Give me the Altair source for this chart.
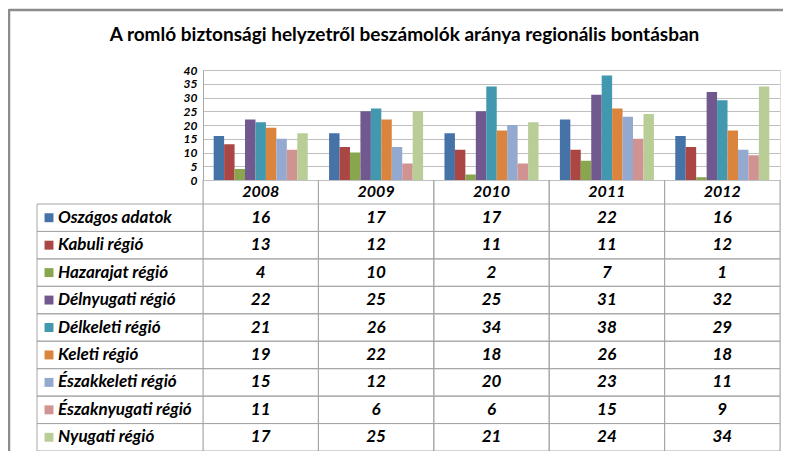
import altair as alt
import pandas as pd

title_text = "A romló biztonsági helyzetről beszámolók aránya regionális bontásban"
years = ["2008", "2009", "2010", "2011", "2012"]
series = ["Oszágos adatok", "Kabuli régió", "Hazarajat régió", "Délnyugati régió",
          "Délkeleti régió", "Keleti régió", "Északkeleti régió", "Északnyugati régió",
          "Nyugati régió"]
orszagos = [16, 17, 17, 22, 16]
kabuli = [13, 12, 11, 11, 12]
hazarajat = [4, 10, 2, 7, 1]
delnyugati = [22, 25, 25, 31, 32]
delkeleti = [21, 26, 34, 38, 29]
keleti = [19, 22, 18, 26, 18]
eszakkeleti = [15, 12, 20, 23, 11]
eszaknyugati = [11, 6, 6, 15, 9]
nyugati = [17, 25, 21, 24, 34]
colors = ["#4572A7", "#AA4643", "#89A54E", "#71588F", "#4198AF",
          "#DB843D", "#93A9CF", "#D19392", "#B9CD96"]
y_ticks = [0, 5, 10, 15, 20, 25, 30, 35, 40]

all_vals = [orszagos, kabuli, hazarajat, delnyugati, delkeleti, keleti,
            eszakkeleti, eszaknyugati, nyugati]
rows = []
for s, vals in zip(series, all_vals):
    for y, v in zip(years, vals):
        rows.append({"year": y, "series": s, "value": v})
df = pd.DataFrame(rows)
series_df = pd.DataFrame({"series": series})
years_df = pd.DataFrame({"year": years, "row": ["hdr"] * len(years)})
one = pd.DataFrame({"a": [0]})

W, H = 577, 381
BAR_H = 110
ROW_TOP = 134
LABEL_LEFT = -166
FONT = "Lato"
GRID = "#BFBFBF"
LINE = "#A6A6A6"
FRAME = "#8C8C8C"

color_scale = alt.Scale(domain=series, range=colors)

frame_top = alt.Chart(one).mark_rule(color=FRAME, strokeWidth=2.5).encode(
    x=alt.value(-194), x2=alt.value(W + 3), y=alt.value(-60))
frame_left = alt.Chart(one).mark_rule(color=FRAME, strokeWidth=2.5).encode(
    x=alt.value(-194), y=alt.value(-61), y2=alt.value(H))

bars = alt.Chart(df).mark_bar().encode(
    x=alt.X("year:N", sort=years, axis=None,
            scale=alt.Scale(paddingInner=0.185, paddingOuter=0.0925)),
    xOffset=alt.XOffset("series:N", sort=series, scale=alt.Scale(paddingInner=0, paddingOuter=0)),
    y=alt.Y("value:Q", scale=alt.Scale(domain=[0, 40], range=[BAR_H, 0], nice=False),
            axis=alt.Axis(values=y_ticks, orient="left", title=None, grid=True,
                          gridColor=GRID, domainColor=LINE, ticks=False,
                          labelFont=FONT, labelFontSize=12, labelFontWeight="bold",
                          labelFontStyle="italic", labelColor="#000", labelPadding=6,
                          labelOverlap=False, labelBaseline="middle")),
    color=alt.Color("series:N", scale=color_scale, legend=None),
)

table_x = alt.X("year:N", sort=years, axis=None, scale=alt.Scale(paddingInner=0, paddingOuter=0))
row_y_scale = alt.Scale(domain=series, range=[ROW_TOP, H], paddingInner=0, paddingOuter=0)

cells = alt.Chart(df).mark_text(
    font=FONT, fontSize=17, fontWeight="bold", fontStyle="italic", color="#000", baseline="middle"
).encode(
    x=table_x,
    y=alt.Y("series:N", sort=series, scale=row_y_scale, axis=None),
    text="value:Q",
)

header = alt.Chart(years_df).mark_text(
    font=FONT, fontSize=16, fontWeight="bold", fontStyle="italic", color="#000", baseline="middle"
).encode(
    x=table_x,
    y=alt.Y("row:N", scale=alt.Scale(range=[BAR_H, ROW_TOP], paddingInner=0, paddingOuter=0), axis=None),
    text="year:N",
)

swatches = alt.Chart(series_df).mark_square(size=80, opacity=1).encode(
    x=alt.value(-154),
    y=alt.Y("series:N", sort=series, scale=row_y_scale, axis=None),
    color=alt.Color("series:N", scale=color_scale, legend=None),
)

labels = alt.Chart(series_df).mark_text(
    font=FONT, fontSize=17, fontWeight="bold", fontStyle="italic", color="#000",
    align="left", baseline="middle"
).encode(
    x=alt.value(-145),
    y=alt.Y("series:N", sort=series, scale=row_y_scale, axis=None),
    text="series:N",
)

hlines_top = alt.Chart(series_df).mark_rule(color=LINE, strokeWidth=1).encode(
    y=alt.Y("series:N", sort=series, scale=row_y_scale, axis=None, bandPosition=0),
    x=alt.value(LABEL_LEFT), x2=alt.value(W),
)
hlines_bot = alt.Chart(series_df).mark_rule(color=LINE, strokeWidth=1).encode(
    y=alt.Y("series:N", sort=series, scale=row_y_scale, axis=None, bandPosition=1),
    x=alt.value(LABEL_LEFT), x2=alt.value(W),
)
vlines_left = alt.Chart(years_df).mark_rule(color=LINE, strokeWidth=1).encode(
    x=alt.X("year:N", sort=years, axis=None,
            scale=alt.Scale(paddingInner=0, paddingOuter=0), bandPosition=0),
    y=alt.value(BAR_H), y2=alt.value(H),
)
vlines_right = alt.Chart(years_df).mark_rule(color=LINE, strokeWidth=1).encode(
    x=alt.X("year:N", sort=years, axis=None,
            scale=alt.Scale(paddingInner=0, paddingOuter=0), bandPosition=1),
    y=alt.value(BAR_H), y2=alt.value(H),
)
label_left = alt.Chart(one).mark_rule(color=LINE, strokeWidth=1).encode(
    x=alt.value(LABEL_LEFT), y=alt.value(ROW_TOP), y2=alt.value(H),
)

chart = alt.layer(
    frame_top, frame_left, bars, hlines_top, hlines_bot, vlines_left, vlines_right, label_left,
    cells, header, swatches, labels,
).resolve_scale(
    x="independent", y="independent"
).properties(
    width=W, height=H,
    autosize="none",
    padding={"left": 195, "top": 62, "right": 3, "bottom": 0},
    title=alt.Title(title_text, font=FONT, fontSize=19, fontWeight="bold", color="#000",
                    anchor="middle", frame="group", dx=-87, offset=-37),
).configure_view(stroke=None).configure(background="white")

chart.save("out.html", embed_options={"renderer": "svg", "actions": False})
